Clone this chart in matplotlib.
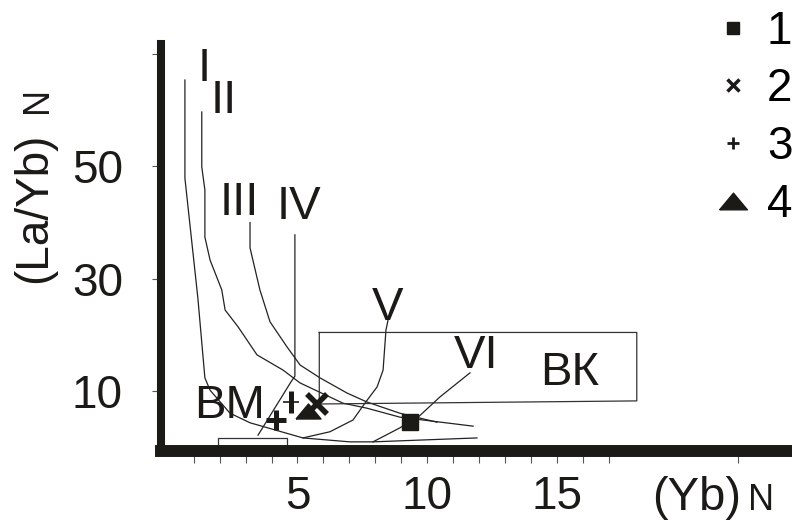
import matplotlib
matplotlib.use("Agg")
import matplotlib.pyplot as plt
from matplotlib.lines import Line2D

plt.rcParams["font.family"] = ["Liberation Sans", "DejaVu Sans"]

# --- кривые смешения (Yb)N -- (La/Yb)N ---
curve_I_x = [0.66, 0.66, 1.16, 1.43, 1.63, 2.40, 3.17, 5.21, 7.02, 7.91, 11.92]
curve_I_y = [65.4, 47.9, 26.5, 12.3, 10.1, 6.0, 4.3, 1.6, 0.9, 0.9, 1.6]

curve_II_x = [1.31, 1.31, 1.43, 1.43, 1.63, 2.08, 2.21, 2.71, 3.44, 4.44, 5.10, 6.75, 7.68, 8.95, 11.77]
curve_II_y = [59.7, 49.9, 45.8, 37.4, 33.3, 28.0, 24.4, 21.4, 16.4, 13.7, 11.4, 7.8, 6.9, 5.3, 3.7]

curve_III_x = [3.17, 3.17, 3.25, 3.55, 3.94, 4.60, 5.10, 5.87, 6.91, 7.68, 8.95, 10.38]
curve_III_y = [40.0, 35.5, 33.9, 28.0, 22.3, 17.8, 14.6, 12.3, 9.6, 8.0, 6.0, 4.4]

curve_IV_x = [4.90, 4.90, 4.75, 3.48]
curve_IV_y = [37.8, 12.6, 11.6, 2.1]

curve_V_x = [5.21, 6.25, 7.14, 7.60, 8.07, 8.30, 8.41, 8.49]
curve_V_y = [1.6, 2.7, 4.8, 7.8, 10.7, 13.7, 20.8, 22.6]

curve_VI_x = [7.91, 8.95, 9.32, 9.65, 10.49, 11.65]
curve_VI_y = [0.9, 3.4, 4.5, 5.3, 8.9, 13.2]

curves = [(curve_I_x, curve_I_y), (curve_II_x, curve_II_y), (curve_III_x, curve_III_y),
          (curve_IV_x, curve_IV_y), (curve_V_x, curve_V_y), (curve_VI_x, curve_VI_y)]

# поля ВК и ВМ
bk_x = [5.84, 18.08, 18.08, 5.84, 5.84]
bk_y = [20.4, 20.4, 8.2, 7.65, 20.4]
bm_x = [1.92, 1.92, 4.58, 4.58]
bm_y = [-0.5, 1.55, 1.55, -0.5]

# точки составов
pt1_x, pt1_y = [9.32], [4.49]
pt2_x, pt2_y = [5.77], [7.65]
pt3a_x, pt3a_y = [4.19], [4.79]
pt3b_x, pt3b_y = [4.75], [8.0]
pt4_x, pt4_y = [5.39], [6.45]

curve_labels = ["I", "II", "III", "IV", "V", "VI", "ВМ", "ВК"]
label_x = [1.40, 2.14, 2.77, 5.07, 8.49, 11.90, 2.40, 15.51]
label_y = [65.3, 59.6, 41.3, 40.6, 22.6, 14.1, 5.1, 11.0]

legend_labels = ["1", "2", "3", "4"]

flat_tri = [(-1, -0.6), (1, -0.6), (0, 0.6), (-1, -0.6)]
ink = "#1c1a17"

fig = plt.figure(figsize=(7.92, 5.2), dpi=100)
ax = fig.add_axes([161 / 792, 1 - 451 / 520, 627 / 792, 407 / 520])

for cx, cy in curves:
    ax.plot(cx, cy, color="#222222", lw=0.9, zorder=2)

ax.plot(bk_x, bk_y, color="#333333", lw=0.9, zorder=2)
ax.plot(bm_x, bm_y, color="#333333", lw=0.9, zorder=2)

ax.plot(pt1_x, pt1_y, ls="none", marker="s", ms=12, color=ink, zorder=4)
ax.plot(pt2_x, pt2_y, ls="none", marker="x", ms=14, mew=4, color=ink, zorder=4)
ax.plot(pt3a_x, pt3a_y, ls="none", marker="+", ms=15, mew=3.6, color=ink, zorder=4)
ax.plot(pt3b_x, pt3b_y, ls="none", marker="|", ms=16, mew=3.6, color=ink, zorder=4)
ax.plot(pt3b_x, pt3b_y, ls="none", marker="_", ms=11, mew=1.2, color=ink, zorder=4)
ax.plot(pt4_x, pt4_y, ls="none", marker=flat_tri, ms=18, color=ink, zorder=4)

for txt, lx, ly in zip(curve_labels, label_x, label_y):
    ax.text(lx, ly, txt, fontsize=34, ha="center", va="baseline", color=ink, zorder=3)

ax.set_xlim(-0.262, 23.91)
ax.set_ylim(-0.73, 71.82)

ax.set_xticks([5, 10, 15])
ax.set_xticks(list(range(1, 18)) + [22], minor=True)
ax.set_yticks([10, 30, 50])
ax.set_yticks([70], minor=True)
ax.tick_params(axis="x", which="both", direction="out", length=8.6, width=0.8,
               color="#555555", labelsize=33, pad=8.5, labelcolor=ink)
ax.tick_params(axis="y", which="both", direction="out", length=6.5, width=0.8,
               color="#555555", labelsize=33, pad=21, labelcolor=ink)

for side in ["top", "right"]:
    ax.spines[side].set_visible(False)
ax.spines["left"].set_linewidth(5.8)
ax.spines["bottom"].set_linewidth(8.6)
ax.spines["left"].set_color(ink)
ax.spines["bottom"].set_color(ink)

handles = [
    Line2D([], [], ls="none", marker="s", ms=9, color=ink),
    Line2D([], [], ls="none", marker="x", ms=9, mew=2.5, color=ink),
    Line2D([], [], ls="none", marker="+", ms=8, mew=2, color=ink),
    Line2D([], [], ls="none", marker=flat_tri, ms=20, color=ink),
]
fig.legend(handles, legend_labels, loc="upper right", bbox_to_anchor=(797 / 792, 1 - 5 / 520),
           frameon=False, fontsize=33, handlelength=0.9, handletextpad=0.3,
           labelspacing=0.3, borderpad=0.1, borderaxespad=0)

fig.text(34 / 792, 1 - 208 / 520, "(La/Yb)", rotation=90, fontsize=33,
         ha="center", va="center", color=ink)
fig.text(37.5 / 792, 1 - 100 / 520, "N", rotation=90, fontsize=26,
         ha="center", va="center", color=ink)
fig.text(652 / 792, 1 - 510 / 520, "(Yb)", fontsize=34, ha="left", va="baseline", color=ink)
fig.text(748 / 792, 1 - 510 / 520, "N", fontsize=26, ha="left", va="baseline", color=ink)

fig.savefig("out.png", dpi=100)
